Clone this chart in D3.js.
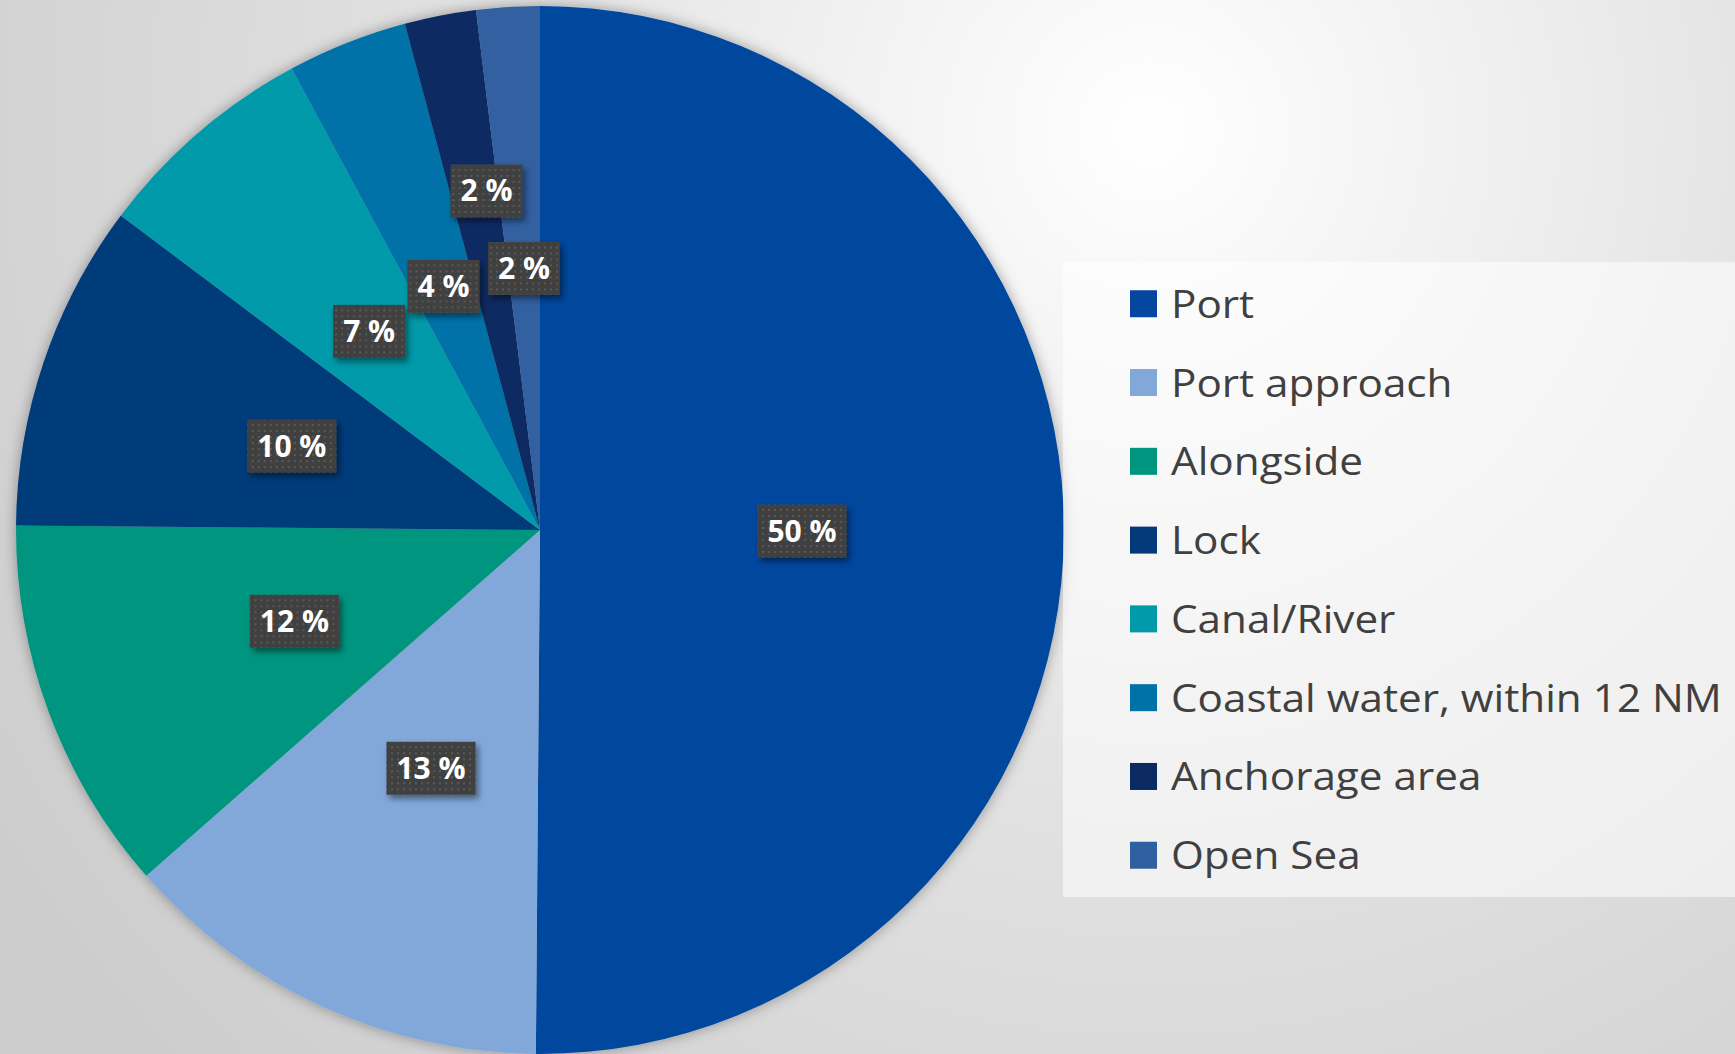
<!DOCTYPE html>
<html>
<head>
<meta charset="utf-8">
<script src="https://cdn.jsdelivr.net/npm/d3@7"></script>
<style>
  html, body { margin: 0; padding: 0; overflow: hidden; }
  svg { display: block; }
</style>
</head>
<body>
<svg id="chart" width="1735" height="1054"></svg>
<script>
// slice values (percent of total)
const categories = ["Port", "Port approach", "Alongside", "Lock", "Canal/River",
  "Coastal water, within 12 NM", "Anchorage area", "Open Sea"];
const shares = [50.1, 13.4, 11.6, 10.1, 6.9, 3.7, 2.2, 1.95];
const sliceColors = ["#05479e", "#82a8da", "#00957f", "#043a7a", "#009aaa",
  "#0072a8", "#0b2a62", "#3060a0"];

var svg = d3.select("#chart"),
  width = +svg.attr("width"),
  height = +svg.attr("height");

var cx = 540, cy = 530, radius = 524;

var defs = svg.append("defs");

var bg = defs.append("radialGradient")
  .attr("id", "bg")
  .attr("gradientUnits", "userSpaceOnUse")
  .attr("cx", 1150).attr("cy", 130).attr("r", 1350);
bg.append("stop").attr("offset", 0).attr("stop-color", "#ffffff");
bg.append("stop").attr("offset", 0.45).attr("stop-color", "#e4e4e4");
bg.append("stop").attr("offset", 1).attr("stop-color", "#cdcdcd");

var pieShadow = defs.append("filter").attr("id", "pieShadow")
  .attr("x", "-10%").attr("y", "-10%").attr("width", "120%").attr("height", "120%");
pieShadow.append("feDropShadow")
  .attr("dx", 0).attr("dy", 0).attr("stdDeviation", 7)
  .attr("flood-color", "#000").attr("flood-opacity", 0.35);

var boxShadow = defs.append("filter").attr("id", "boxShadow")
  .attr("x", "-30%").attr("y", "-30%").attr("width", "160%").attr("height", "160%");
boxShadow.append("feDropShadow")
  .attr("dx", 3).attr("dy", 4).attr("stdDeviation", 3)
  .attr("flood-color", "#000").attr("flood-opacity", 0.45);

var dots = defs.append("pattern").attr("id", "dots")
  .attr("patternUnits", "userSpaceOnUse").attr("width", 6).attr("height", 6);
dots.append("rect").attr("width", 6).attr("height", 6).attr("fill", "#404040");
dots.append("rect").attr("x", 2).attr("y", 2).attr("width", 2).attr("height", 2)
  .attr("fill", "#595959");

svg.append("rect").attr("width", width).attr("height", height).attr("fill", "url(#bg)");

var data = categories.map(function(name, i) {
  return { name: name, value: shares[i], color: sliceColors[i] };
});
var total = d3.sum(shares);

var pie = d3.pie().sort(null).value(function(d) { return d.value; });
var arc = d3.arc().innerRadius(0).outerRadius(radius);
var arcs = pie(data);

var g = svg.append("g").attr("transform", "translate(" + cx + "," + cy + ")");

g.append("g")
  .attr("filter", "url(#pieShadow)")
  .selectAll("path")
  .data(arcs)
  .enter()
  .append("path")
  .attr("d", arc)
  .attr("fill", function(d) { return d.data.color; });

// Excel pushed the anchorage label outward so it clears its neighbours
var labelOffset = { "Anchorage area": { k: 0.655, da: 0.035 } };

var fmt = d3.format(".0f");
var label = g.append("g")
  .selectAll("g")
  .data(arcs)
  .enter()
  .append("g")
  .attr("transform", function(d) {
    var o = labelOffset[d.data.name] || { k: 0.5, da: 0 };
    var a = (d.startAngle + d.endAngle) / 2 + o.da;
    var r = radius * o.k;
    return "translate(" + r * Math.sin(a) + "," + -r * Math.cos(a) + ")";
  });

label.each(function(d) {
  var sel = d3.select(this);
  var t = sel.append("text")
    .attr("text-anchor", "middle")
    .attr("dy", "0.35em")
    .attr("font-family", "'Open Sans', sans-serif")
    .attr("font-weight", "bold")
    .attr("font-size", 30)
    .attr("fill", "#ffffff")
    .text(fmt(d.data.value / total * 100) + " %");
  var w = t.node().getComputedTextLength() + 20;
  sel.insert("rect", "text")
    .attr("x", -w / 2).attr("y", -26.5)
    .attr("width", w).attr("height", 53)
    .attr("fill", "url(#dots)")
    .attr("filter", "url(#boxShadow)");
});

// legend
var legend = svg.append("g");
legend.append("rect")
  .attr("x", 1063).attr("y", 262)
  .attr("width", width - 1063).attr("height", 635)
  .attr("fill", "#ffffff").attr("fill-opacity", 0.55);

var row = d3.scaleBand().domain(categories).range([262, 897]).paddingOuter(0.03);

var item = legend.selectAll("g.item")
  .data(data)
  .enter()
  .append("g")
  .attr("class", "item")
  .attr("transform", function(d) {
    return "translate(1130," + (row(d.name) + row.bandwidth() / 2) + ")";
  });

item.append("rect")
  .attr("x", 0).attr("y", -13.5)
  .attr("width", 27).attr("height", 27)
  .attr("fill", function(d) { return d.color; });

var texts = item.append("text")
  .attr("font-family", "'Open Sans', sans-serif")
  .attr("font-size", 39)
  .attr("fill", "#404040")
  .text(function(d) { return d.name; });

// fit the fallback font to the original text width
var longest = d3.max(texts.nodes(), function(n) { return n.getComputedTextLength(); });
var sx = 551 / longest;
texts.attr("transform", "translate(41,14) scale(" + sx + ",1)");
</script>
</body>
</html>
